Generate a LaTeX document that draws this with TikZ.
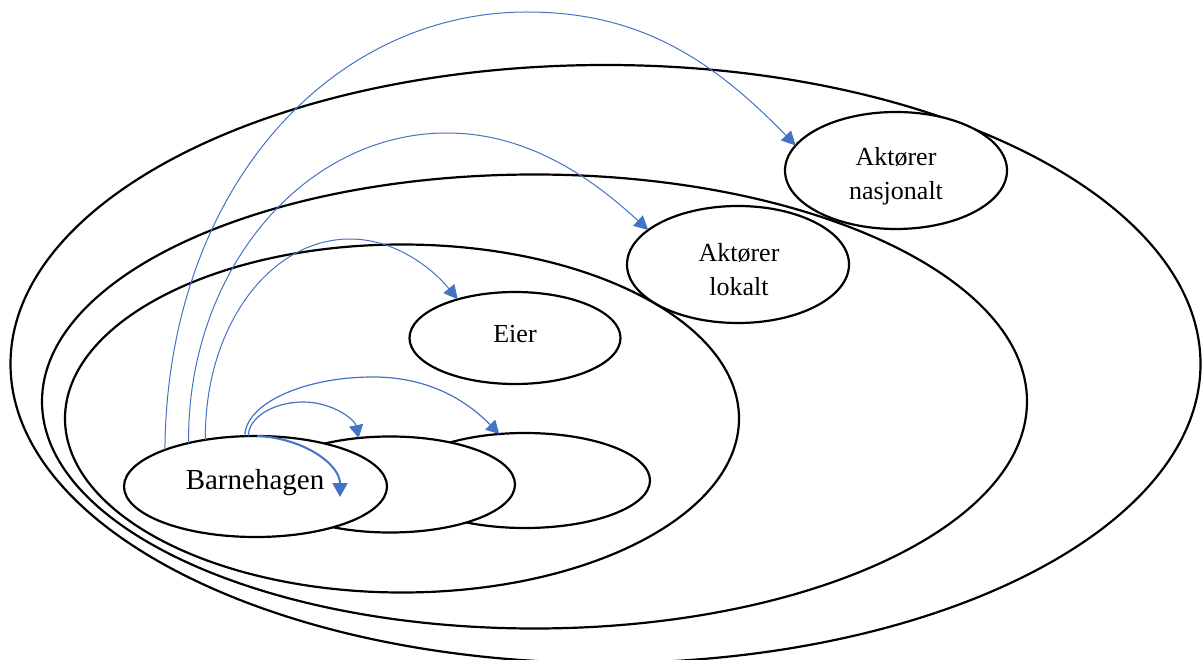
\documentclass[tikz,border=0pt]{standalone}
\usepackage{fontspec}
\setmainfont{Liberation Serif}
\usetikzlibrary{shapes.geometric,arrows.meta}
\definecolor{arrowblue}{HTML}{4472C4}
\begin{document}
\begin{tikzpicture}[x=1pt,y=-1pt,
  ell/.style={draw=black, line width=2.2pt, fill=white, ellipse, inner sep=0pt, outer sep=0pt},
  txt/.style={inner sep=0pt, align=center, font=\fontsize{26}{34}\selectfont},
  conn/.style={draw=arrowblue, line width=1pt, -{Triangle[length=14pt,width=14pt]}},
  conn2/.style={draw=arrowblue, line width=1.2pt, -{Triangle[length=13pt,width=14pt]}},
  conn3/.style={draw=arrowblue, line width=2pt, -{Triangle[length=14pt,width=15pt]}}]
\useasboundingbox (0,0) rectangle (1202,660);
\node[ell, minimum width=1190pt, minimum height=598pt] (outer) at (605.5,364) {};
\node[ell, minimum width=985pt, minimum height=454pt] (second) at (534.5,401.5) {};
\node[ell, minimum width=674pt, minimum height=348pt] (inner) at (402,418.5) {};
\node[ell, minimum width=211pt, minimum height=92pt] (eier) at (515,338) {};
\node[txt] (eiertxt) at (515,334) {Eier};
\node[ell, minimum width=222pt, minimum height=117pt] (lok) at (738,264.5) {};
\node[txt] (loktxt) at (739,270) {Aktører\\lokalt};
\node[ell, minimum width=222pt, minimum height=117pt] (nas) at (896,170.5) {};
\node[txt] (nastxt) at (896,176) {Aktører\\nasjonalt};
\node[ell, minimum width=250pt, minimum height=95pt] (rgt) at (525,480.5) {};
\node[ell, minimum width=250pt, minimum height=96pt] (ctr) at (390,484.5) {};
\node[ell, minimum width=263pt, minimum height=101pt] (barn) at (255.5,486.5) {};
\node[txt, font=\fontsize{29}{34}\selectfont] (barntxt) at (255,483) {Barnehagen};
\coordinate (cend) at (340,497);
\draw[conn] (barn.158) .. controls (167,190) and (330,12) .. (527,12) .. controls (637,12) and (710,57) .. (nas.166);
\draw[conn] (barn.147) .. controls (187,271) and (303.5,133) .. (447,133) .. controls (532,133) and (597,183) .. (lok.159);
\draw[conn] (barn.137) .. controls (204,328) and (269,239) .. (350,239) .. controls (395,239) and (432,268) .. (eier.146);
\draw[conn2] (barn.102) .. controls (245,404) and (303,377) .. (373,377) .. controls (433,377) and (470,404) .. (rgt.119);
\draw[conn2] (barn.98) .. controls (248,418) and (273,402) .. (303,402) .. controls (333,402) and (355,420) .. (ctr.124);
\draw[conn3] (barn.88) .. controls (303,438) and (340,464) .. (cend);
\end{tikzpicture}
\end{document}
